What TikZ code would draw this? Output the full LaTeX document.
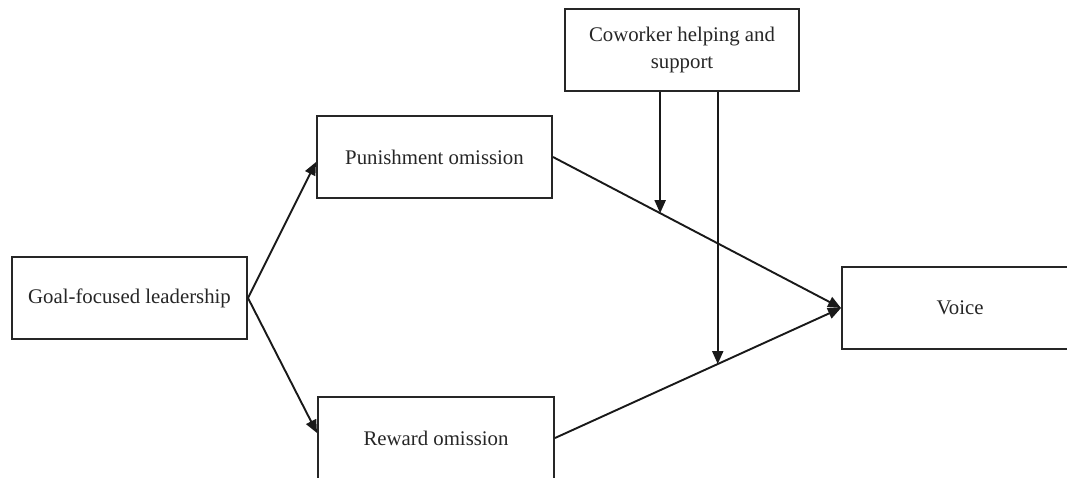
\documentclass[tikz,border=0pt]{standalone}
\usepackage{fontspec}
\setmainfont{Liberation Serif}
\usetikzlibrary{arrows.meta,calc}
\begin{document}
\begin{tikzpicture}[x=1pt,y=-1pt,
  box/.style={draw=black!85, line width=2pt, minimum width=235pt, minimum height=82pt, inner sep=0pt, align=center,
    font=\fontsize{20.8}{27}\selectfont, text=black!85},
  conn/.style={draw=black!90, line width=1.9pt, -{Triangle[length=13pt,width=11pt]}}]
\useasboundingbox (0,0) rectangle (1067,477);
\fill[white] (0,0) rectangle (1067,477);
\node[box] (goal) at (129.5,298) {Goal-focused leadership};
\node[box] (pun) at (434.5,157) {Punishment omission};
\node[box, minimum width=236pt] (rew) at (436,438) {Reward omission};
\node[box, minimum width=236pt] (voice) at (960,308) {Voice};
\node[box, minimum width=234pt] (cow) at (682,50) {Coworker helping and\\support};
\draw[conn] (goal.east) -- ([yshift=-5pt]pun.west);
\draw[conn] (goal.east) -- ([yshift=5pt]rew.west);
\draw[conn] (pun.east) -- (voice.west);
\draw[conn] (rew.east) -- (voice.west);
\coordinate (m1) at ($(pun.east)!0.372!(voice.west)$);
\coordinate (m2) at ($(rew.east)!0.569!(voice.west)$);
\draw[conn] (cow.south -| m1) -- (m1);
\draw[conn] (cow.south -| m2) -- (m2);
\end{tikzpicture}
\end{document}
